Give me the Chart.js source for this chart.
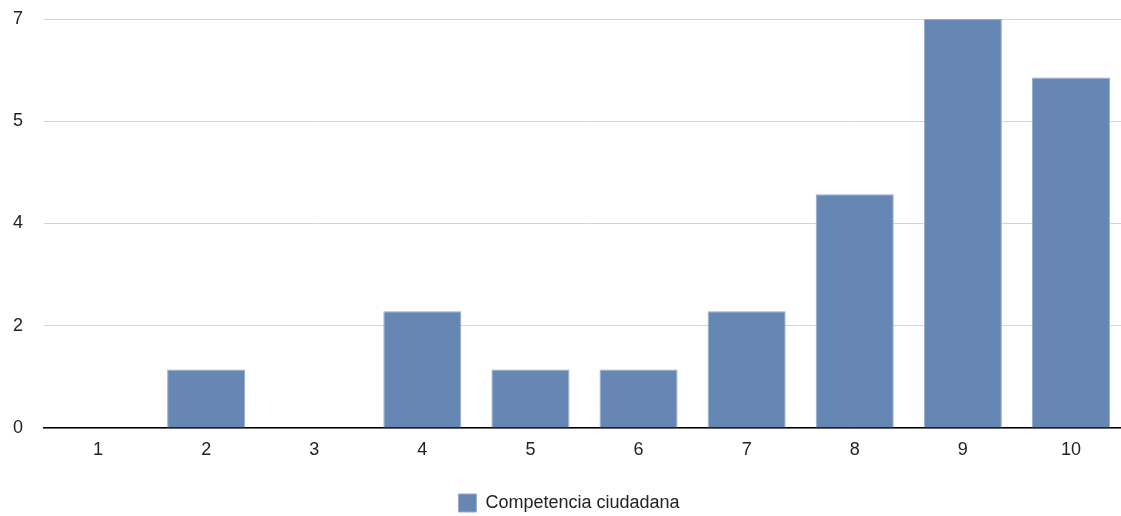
<!DOCTYPE html>
<html>
<head>
<meta charset="utf-8">
<script src="https://cdn.jsdelivr.net/npm/chart.js@4"></script>
<style>
  html, body { margin: 0; padding: 0; background: #fff; overflow: hidden; }
  #wrap { width: 1125px; height: 516px; }
</style>
</head>
<body>
<div id="wrap"><canvas id="chart"></canvas></div>
<script>
// Chart data
const categories = ['1', '2', '3', '4', '5', '6', '7', '8', '9', '10'];
const seriesName = 'Competencia ciudadana';
const seriesValues = [0, 1, 0, 2, 1, 1, 2, 4, 7, 6];
const yTickLabels = ['0', '2', '4', '5', '7'];

const FONT = 'Liberation Sans, Arial, Helvetica, sans-serif';
const ctx = document.getElementById('chart');

new Chart(ctx, {
    type: 'bar',
    data: {
        labels: categories,
        datasets: [{
            label: seriesName,
            data: seriesValues,
            backgroundColor: '#6687b4',
            borderColor: '#93abcd',
            borderWidth: 1,
            categoryPercentage: 0.722,
            barPercentage: 1.0
        }]
    },
    options: {
        responsive: true,
        maintainAspectRatio: false,
        animation: false,
        layout: {
            padding: { left: 13, right: 0, top: 19, bottom: -6 }
        },
        plugins: {
            legend: {
                position: 'bottom',
                labels: {
                    boxWidth: 18,
                    boxHeight: 18,
                    padding: 4,
                    color: '#222',
                    font: { family: FONT, size: 18 }
                }
            },
            tooltip: { enabled: false }
        },
        scales: {
            y: {
                min: 0,
                max: 7,
                afterFit: function(scale) {
                    scale.width = 31;
                },
                ticks: {
                    stepSize: 1.75,
                    padding: 0,
                    crossAlign: 'far',
                    color: '#222',
                    font: { family: FONT, size: 18 },
                    callback: function(value, index) {
                        return yTickLabels[index];
                    }
                },
                grid: {
                    color: '#d4d4d4',
                    lineWidth: 1,
                    drawTicks: false
                },
                border: { display: false }
            },
            x: {
                afterFit: function(scale) {
                    scale.height = 62;
                },
                ticks: {
                    padding: 11,
                    color: '#222',
                    font: { family: FONT, size: 18 }
                },
                grid: {
                    display: false,
                    drawTicks: false
                },
                border: { color: '#000', width: 1.5 }
            }
        }
    }
});
</script>
</body>
</html>
